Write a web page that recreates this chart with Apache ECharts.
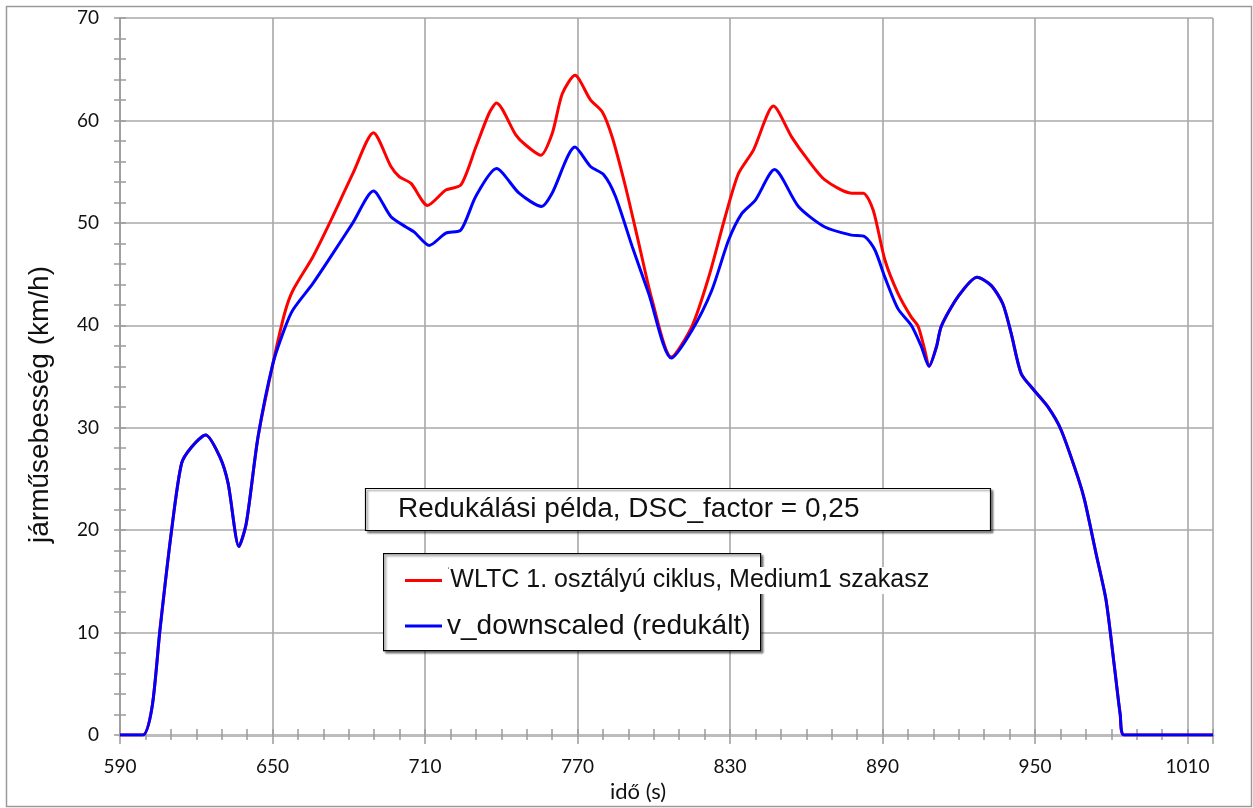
<!DOCTYPE html>
<html>
<head>
<meta charset="utf-8">
<script src="https://cdn.jsdelivr.net/npm/echarts@6/dist/echarts.min.js"></script>
<style>
html,body{margin:0;padding:0;background:#fff;}
#chart{width:1253px;height:808px;}
</style>
</head>
<body>
<div id="chart"></div>
<script>
// ---- data ----
const titleText = 'Redukálási példa, DSC_factor = 0,25';
const redName = 'WLTC 1. osztályú ciklus, Medium1 szakasz';
const blueName = 'v_downscaled (redukált)';
const xAxisName = 'idő (s)';
const yAxisName = 'járműsebesség (km/h)';

const redTime = [590, 599, 602.6, 605.7, 610.3, 614.2, 618.1, 623.7, 629.2, 632.5, 636.8, 639.7, 644.3, 650.2,
  654.8, 658, 665.9, 672.4, 681.6, 689.7, 696.6, 699.9, 704.5, 711, 718.2, 724.1, 730, 735.2, 738.1,
  745.7, 749.6, 755.5, 760, 764, 769, 775.1, 779.7, 783.6, 788.9, 794.1, 799.3, 806.9, 815, 821.6,
  828.1, 833.3, 839.2, 847.1, 854.2, 860.8, 867.3, 877.8, 882.4, 886.3, 890.9, 896.1, 901.3, 904,
  906.6, 908.3, 911.2, 913.1, 919.7, 927.2, 932.7, 937.3, 940.6, 944.5, 949.1, 955, 960.2, 966.8,
  969.5, 974, 977.9, 981.2, 983.5, 985, 1020];
const redSpeed = [0, 0, 2.7, 10.2, 20, 26.5, 28.1, 29.3, 27.2, 24.6, 18.4, 20.7, 29.1, 36.3,
  41.2, 43.4, 46.7, 49.95, 54.8, 58.8, 55.5, 54.5, 53.85, 51.7, 53.2, 53.7, 57.4, 60.7, 61.7,
  58.6, 57.6, 56.6, 58.7, 62.6, 64.4, 62.0, 60.85, 58.4, 53.5, 48.0, 42.5, 36.9, 39.9, 44.7,
  50.6, 54.8, 57.1, 61.4, 58.4, 56.1, 54.2, 52.9, 52.9, 51.25, 46.4, 43.1, 40.8, 39.9,
  37.6, 36.0, 37.9, 39.9, 42.8, 44.7, 43.9, 42.1, 39.2, 35.3, 33.8, 32.05, 29.8, 25.2,
  22.9, 17.7, 13.2, 6.7, 2.0, 0, 0];

const blueTime = [590, 599, 602.6, 605.7, 610.3, 614.2, 618.1, 623.7, 629.2, 632.5, 636.8, 639.7, 644.3, 650.2,
  654.8, 658, 665.9, 673.7, 681.6, 689.7, 696.6, 702.5, 705.8, 711.7, 718.2, 724.1, 730, 738.1, 747,
  755.9, 760, 769, 775.1, 780.3, 784.9, 791.5, 798, 806.9, 815, 822.8, 829.4, 834.6, 839.9, 847.5,
  856.9, 867.3, 877.8, 883, 887, 890.9, 896.1, 901.3, 905.3, 908.3, 911.2, 913.1, 919.7, 927.2,
  932.7, 937.3, 940.6, 944.5, 949.1, 955, 960.2, 966.8, 969.5, 974, 977.9, 981.2, 983.5, 985, 1020];
const blueSpeed = [0, 0, 2.7, 10.2, 20, 26.5, 28.1, 29.3, 27.2, 24.6, 18.4, 20.7, 29.1, 36.3,
  39.7, 41.5, 44.1, 47.0, 50.0, 53.1, 50.6, 49.6, 49.1, 47.8, 49.0, 49.3, 52.6, 55.3, 52.9,
  51.6, 52.9, 57.4, 55.5, 54.7, 52.6, 47.7, 43.1, 36.8, 39.5, 43.4, 48.3, 50.9, 52.2, 55.2,
  51.6, 49.6, 48.8, 48.65, 47.35, 44.7, 41.6, 40.0, 37.9, 36.0, 37.9, 39.9, 42.8, 44.7,
  43.9, 42.1, 39.2, 35.3, 33.8, 32.05, 29.8, 25.2, 22.9, 17.7, 13.2, 6.7, 2.0, 0, 0];

const xMin = 590, xMax = 1020, xStep = 60;
const yMin = 0, yMax = 70, yStep = 10;

// ---- chart ----
const chart = echarts.init(document.getElementById('chart'), null, {renderer: 'canvas'});
const zip = (a, b) => a.map((t, i) => [t, b[i]]);
const gridColor = '#a8a8a8';
const tickColor = '#9a9a9a';
const tickFont = 'Lato';
const plain = v => String(v);

const xBase = {
  type: 'value', min: xMin, max: xMax, interval: xStep, gridIndex: 0
};
const yBase = {
  type: 'value', min: yMin, max: yMax, interval: yStep, gridIndex: 0
};

const option = {
  backgroundColor: '#ffffff',
  animation: false,
  title: {
    text: titleText,
    left: 365, top: 488,
    padding: [7, 131, 7, 33],
    backgroundColor: '#ffffff',
    borderColor: '#000000',
    borderWidth: 1.2,
    shadowColor: 'rgba(0,0,0,0.45)',
    shadowBlur: 2,
    shadowOffsetX: 2,
    shadowOffsetY: 2,
    textStyle: {fontFamily: 'Liberation Sans', fontSize: 28, fontWeight: 'normal', color: '#111', lineHeight: 29},
    z: 20
  },
  legend: {
    orient: 'vertical',
    left: 405, top: 567,
    padding: 0,
    icon: 'rect',
    itemWidth: 37,
    itemHeight: 3,
    itemGap: 18,
    z: 30,
    data: [redName, blueName],
    formatter: function (name) {
      return name === redName ? '{m|ˈ}{a|' + name + '}' : '{b|' + name + '}';
    },
    textStyle: {
      fontFamily: 'Liberation Sans', color: '#111',
      rich: {
        m: {fontSize: 10, fontFamily: 'Liberation Sans', verticalAlign: 'top', padding: [0, 0, 10, 0], color: '#333', backgroundColor: '#fff'},
        a: {fontSize: 25, fontFamily: 'Liberation Sans', color: '#111', backgroundColor: '#fff', padding: [1, 0, 1, 0]},
        b: {fontSize: 28, fontFamily: 'Liberation Sans', color: '#111'}
      }
    }
  },
  grid: {left: 120, top: 18, right: 40, bottom: 73, containLabel: false},
  xAxis: [
    Object.assign({}, xBase, {
      name: xAxisName,
      nameLocation: 'middle',
      nameGap: 40,
      nameTextStyle: {fontFamily: tickFont, fontSize: 22, color: '#111', padding: [0, 57, 0, 0]},
      axisLine: {show: true, lineStyle: {color: '#bdbdbd', width: 3}},
      axisTick: {show: true, inside: false, length: 9, lineStyle: {color: tickColor, width: 1.5}},
      minorTick: {show: true, splitNumber: 6, length: 5, lineStyle: {color: tickColor, width: 1.5}},
      axisLabel: {show: true, margin: 22, fontFamily: tickFont, fontSize: 19, color: '#111', formatter: plain},
      splitLine: {show: true, lineStyle: {color: gridColor, width: 1.6}}
    }),
    Object.assign({}, xBase, {
      position: 'bottom',
      axisLine: {show: false},
      axisTick: {show: true, inside: true, length: 6, lineStyle: {color: tickColor, width: 1.5}},
      minorTick: {show: true, splitNumber: 6, length: 6, lineStyle: {color: tickColor, width: 1.5}},
      axisLabel: {show: false},
      splitLine: {show: false}
    })
  ],
  yAxis: [
    Object.assign({}, yBase, {
      name: yAxisName,
      nameLocation: 'middle',
      nameGap: 66,
      nameTextStyle: {fontFamily: 'Liberation Sans', fontSize: 28, color: '#111', padding: [0, 56, 0, 0]},
      axisLine: {show: true, lineStyle: {color: '#a0a0a0', width: 2}},
      axisTick: {show: true, inside: false, length: 6, lineStyle: {color: tickColor, width: 1.5}},
      minorTick: {show: true, splitNumber: 5, length: 6, lineStyle: {color: tickColor, width: 1.5}},
      axisLabel: {show: true, margin: 21, fontFamily: tickFont, fontSize: 19, color: '#111', formatter: plain},
      splitLine: {show: true, lineStyle: {color: gridColor, width: 1.6}}
    }),
    Object.assign({}, yBase, {
      position: 'left',
      axisLine: {show: false},
      axisTick: {show: true, inside: true, length: 6, lineStyle: {color: tickColor, width: 1.5}},
      minorTick: {show: true, splitNumber: 5, length: 6, lineStyle: {color: tickColor, width: 1.5}},
      axisLabel: {show: false},
      splitLine: {show: false}
    })
  ],
  graphic: [
    {
      type: 'rect', left: 4, top: 4, z: -10, silent: true,
      shape: {width: 1245, height: 800},
      style: {fill: 'none', stroke: '#9a9a9a', lineWidth: 1.5}
    },
    {
      type: 'rect', left: 383, top: 553, z: 10, silent: true,
      shape: {width: 377, height: 97},
      style: {fill: '#ffffff', stroke: '#000000', lineWidth: 1.2,
        shadowColor: 'rgba(0,0,0,0.45)', shadowBlur: 2, shadowOffsetX: 2, shadowOffsetY: 2}
    }
  ],
  series: [
    {
      name: redName, type: 'line', xAxisIndex: 0, yAxisIndex: 0,
      data: zip(redTime, redSpeed),
      showSymbol: false, symbol: 'none',
      smooth: 0.25,
      lineStyle: {color: '#ff0000', width: 3},
      itemStyle: {color: '#ff0000'},
      z: 2
    },
    {
      name: blueName, type: 'line', xAxisIndex: 0, yAxisIndex: 0,
      data: zip(blueTime, blueSpeed),
      showSymbol: false, symbol: 'none',
      smooth: 0.25,
      lineStyle: {color: '#0000ff', width: 3},
      itemStyle: {color: '#0000ff'},
      z: 3
    }
  ]
};
chart.setOption(option);
</script>
</body>
</html>
